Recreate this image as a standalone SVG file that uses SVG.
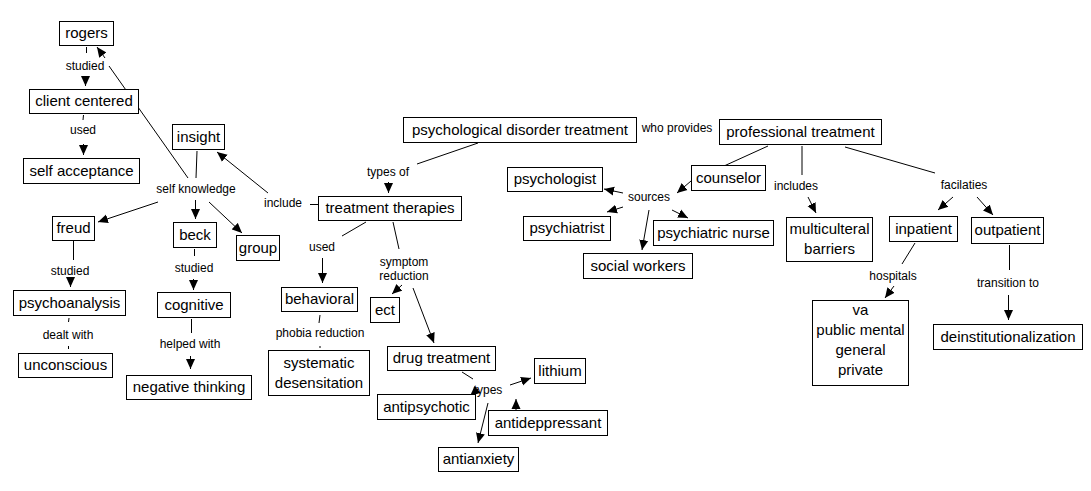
<svg xmlns="http://www.w3.org/2000/svg" width="1091" height="491" viewBox="0 0 1091 491">
<defs>
<marker id="arr" viewBox="0 0 10 10" refX="10" refY="5" markerWidth="10" markerHeight="10" markerUnits="userSpaceOnUse" orient="auto"><path d="M0,0.5 L10,5 L0,9.5 z" fill="#000"/></marker>
<style>
.n rect{fill:#fff;stroke:#000;stroke-width:1}
.n text{font-family:"Liberation Sans",Arial,sans-serif;font-size:15px;fill:#000;text-anchor:middle}
.l text{font-family:"Liberation Sans",Arial,sans-serif;font-size:12px;fill:#000;text-anchor:middle}
#connectors line{stroke:#000;stroke-width:1}
#connectors .a{marker-end:url(#arr)}
</style>
</defs>
<rect width="1091" height="491" fill="#fff"/>
<g id="connectors">
<line x1="86.5" y1="47" x2="86.5" y2="53"/>
<line class="a" x1="85.5" y1="76" x2="85.5" y2="86"/>
<line x1="188" y1="178" x2="109" y2="66"/>
<line class="a" x1="105" y1="58" x2="97" y2="47"/>
<line x1="83.5" y1="115" x2="83" y2="120"/>
<line class="a" x1="83.5" y1="144" x2="83.5" y2="155"/>
<line x1="197" y1="151" x2="196" y2="178"/>
<line class="a" x1="268" y1="193" x2="217" y2="152"/>
<line x1="310" y1="204.5" x2="318" y2="204.5"/>
<line class="a" x1="158" y1="202" x2="98" y2="222"/>
<line class="a" x1="195.5" y1="200" x2="195.5" y2="219"/>
<line class="a" x1="209" y1="202" x2="242" y2="233"/>
<line x1="73.5" y1="240" x2="73.5" y2="260"/>
<line class="a" x1="70.5" y1="280" x2="70.5" y2="287"/>
<line x1="69" y1="318" x2="68.5" y2="322"/>
<line x1="68.5" y1="346" x2="68.5" y2="349"/>
<line x1="194.5" y1="249" x2="194.5" y2="256"/>
<line class="a" x1="193.5" y1="279" x2="193.5" y2="290"/>
<line x1="191.5" y1="319" x2="191.5" y2="333"/>
<line class="a" x1="190.5" y1="356" x2="190.5" y2="369"/>
<line x1="478" y1="143" x2="417" y2="164"/>
<line class="a" x1="388.5" y1="182" x2="388.5" y2="193"/>
<line x1="366" y1="222" x2="342" y2="236"/>
<line class="a" x1="322.5" y1="258" x2="322.5" y2="283"/>
<line x1="320" y1="315" x2="319" y2="323"/>
<line x1="320" y1="346" x2="320" y2="348"/>
<line x1="393" y1="222" x2="399" y2="249"/>
<line class="a" x1="402" y1="285" x2="392" y2="294"/>
<line class="a" x1="413" y1="288" x2="434" y2="343"/>
<line x1="462" y1="372" x2="473" y2="379"/>
<line class="a" x1="478" y1="389" x2="470" y2="396"/>
<line class="a" x1="510" y1="385" x2="531" y2="378"/>
<line class="a" x1="516" y1="410" x2="516" y2="399"/>
<line class="a" x1="488" y1="403" x2="478" y2="443"/>
<line x1="768" y1="146" x2="691" y2="181"/>
<line class="a" x1="691" y1="181" x2="677" y2="193"/>
<line class="a" x1="623" y1="193" x2="604" y2="189"/>
<line class="a" x1="623" y1="207" x2="607" y2="212"/>
<line class="a" x1="649" y1="210" x2="642" y2="250"/>
<line class="a" x1="672" y1="210" x2="688" y2="218"/>
<line x1="802" y1="146" x2="802" y2="175"/>
<line class="a" x1="808" y1="197" x2="816" y2="213"/>
<line x1="845" y1="147" x2="935" y2="173"/>
<line class="a" x1="953" y1="197" x2="938" y2="210"/>
<line class="a" x1="977" y1="197" x2="993" y2="215"/>
<line x1="915" y1="243" x2="902" y2="264"/>
<line class="a" x1="894" y1="286" x2="885" y2="298"/>
<line x1="1009.5" y1="245" x2="1009.5" y2="270"/>
<line class="a" x1="1008.5" y1="295" x2="1008.5" y2="320"/>
</g>
<g id="n-rogers" class="n"><rect x="59.5" y="21.5" width="54" height="24"/><text x="86.5" y="38">rogers</text></g>
<g id="n-client" class="n"><rect x="29.5" y="89.5" width="109" height="24"/><text x="84" y="106">client centered</text></g>
<g id="n-selfacc" class="n"><rect x="23.5" y="158.5" width="116" height="25"/><text x="81.5" y="176">self acceptance</text></g>
<g id="n-insight" class="n"><rect x="172.5" y="124.5" width="52" height="25"/><text x="198.5" y="142">insight</text></g>
<g id="n-freud" class="n"><rect x="52.5" y="216.5" width="42" height="24"/><text x="73.5" y="233">freud</text></g>
<g id="n-beck" class="n"><rect x="173.5" y="222.5" width="43" height="25"/><text x="195" y="240">beck</text></g>
<g id="n-group" class="n"><rect x="236.5" y="235.5" width="43" height="25"/><text x="258" y="253">group</text></g>
<g id="n-psychoanalysis" class="n"><rect x="13.5" y="290.5" width="112" height="25"/><text x="69.5" y="308">psychoanalysis</text></g>
<g id="n-unconscious" class="n"><rect x="18.5" y="353.5" width="94" height="24"/><text x="65.5" y="370">unconscious</text></g>
<g id="n-cognitive" class="n"><rect x="157.5" y="292.5" width="73" height="25"/><text x="194" y="310">cognitive</text></g>
<g id="n-negative" class="n"><rect x="126.5" y="375.5" width="125" height="24"/><text x="189" y="392">negative thinking</text></g>
<g id="n-therapies" class="n"><rect x="318.5" y="196.5" width="143" height="24"/><text x="390" y="213">treatment therapies</text></g>
<g id="n-behavioral" class="n"><rect x="281.5" y="287.5" width="76" height="24"/><text x="319.5" y="304">behavioral</text></g>
<g id="n-systematic" class="n"><rect x="268.5" y="350.5" width="101" height="45"/><text x="319" y="368">systematic</text><text x="319" y="388">desensitation</text></g>
<g id="n-ect" class="n"><rect x="370.5" y="297.5" width="29" height="25"/><text x="385" y="315">ect</text></g>
<g id="n-drug" class="n"><rect x="387.5" y="346.5" width="108" height="24"/><text x="441.5" y="363">drug treatment</text></g>
<g id="n-antipsychotic" class="n"><rect x="377.5" y="394.5" width="98" height="25"/><text x="426.5" y="412">antipsychotic</text></g>
<g id="n-lithium" class="n"><rect x="534.5" y="358.5" width="51" height="25"/><text x="560" y="376">lithium</text></g>
<g id="n-antidep" class="n"><rect x="488.5" y="410.5" width="119" height="25"/><text x="548" y="428">antideppressant</text></g>
<g id="n-antianxiety" class="n"><rect x="438.5" y="447.5" width="80" height="24"/><text x="478.5" y="464">antianxiety</text></g>
<g id="n-pdt" class="n"><rect x="403.5" y="117.5" width="233" height="25"/><text x="520" y="135">psychological disorder treatment</text></g>
<g id="n-professional" class="n"><rect x="719.5" y="119.5" width="162" height="25"/><text x="800.5" y="137">professional treatment</text></g>
<g id="n-psychologist" class="n"><rect x="507.5" y="167.5" width="95" height="24"/><text x="555" y="184">psychologist</text></g>
<g id="n-counselor" class="n"><rect x="691.5" y="165.5" width="74" height="25"/><text x="728.5" y="183">counselor</text></g>
<g id="n-psychiatrist" class="n"><rect x="523.5" y="216.5" width="87" height="24"/><text x="567" y="233">psychiatrist</text></g>
<g id="n-nurse" class="n"><rect x="653.5" y="220.5" width="120" height="25"/><text x="713.5" y="238">psychiatric nurse</text></g>
<g id="n-social" class="n"><rect x="583.5" y="253.5" width="109" height="25"/><text x="638" y="271">social workers</text></g>
<g id="n-multi" class="n"><rect x="786.5" y="217.5" width="86" height="44"/><text x="829.5" y="234">multiculteral</text><text x="829.5" y="254">barriers</text></g>
<g id="n-inpatient" class="n"><rect x="889.5" y="216.5" width="68" height="25"/><text x="923.5" y="234">inpatient</text></g>
<g id="n-outpatient" class="n"><rect x="971.5" y="217.5" width="72" height="26"/><text x="1007.5" y="235">outpatient</text></g>
<g id="n-hospitals" class="n"><rect x="812.5" y="300.5" width="96" height="85"/><text x="860.5" y="315">va</text><text x="860.5" y="335">public mental</text><text x="860.5" y="355">general</text><text x="860.5" y="375">private</text></g>
<g id="n-deinst" class="n"><rect x="933.5" y="324.5" width="149" height="25"/><text x="1008" y="342">deinstitutionalization</text></g>
<g id="labels" class="l">
<text x="85" y="70">studied</text>
<text x="83" y="134">used</text>
<text x="196" y="193">self knowledge</text>
<text x="283" y="207">include</text>
<text x="70" y="275">studied</text>
<text x="68" y="339">dealt with</text>
<text x="194" y="272">studied</text>
<text x="190" y="348">helped with</text>
<text x="388" y="176">types of</text>
<text x="322" y="251">used</text>
<text x="320" y="337">phobia reduction</text>
<text x="404" y="266">symptom</text>
<text x="404" y="280">reduction</text>
<text x="488" y="394">types</text>
<text x="677" y="132">who provides</text>
<text x="649" y="201">sources</text>
<text x="796" y="190">includes</text>
<text x="964" y="189">facilaties</text>
<text x="893" y="280">hospitals</text>
<text x="1008" y="287">transition to</text>
</g>
</svg>
